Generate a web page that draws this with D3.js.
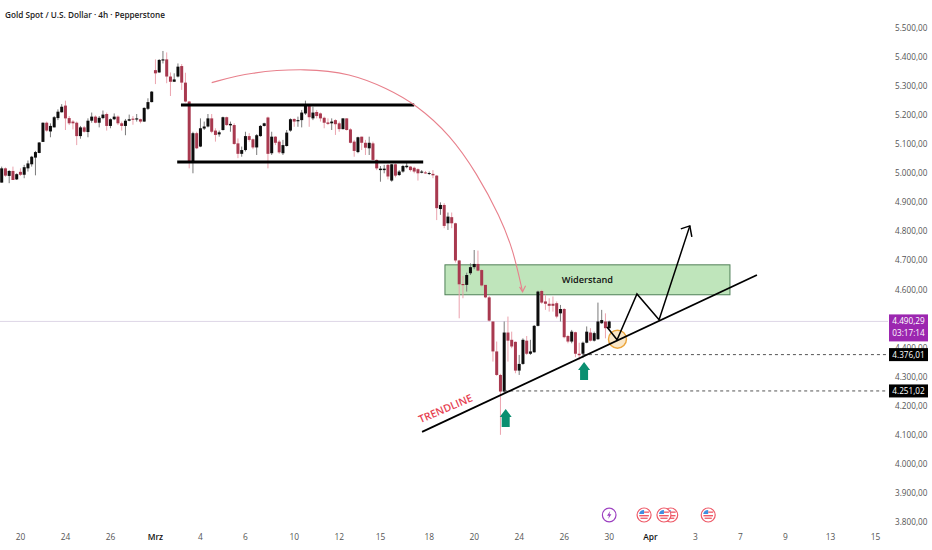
<!DOCTYPE html>
<html><head><meta charset="utf-8">
<style>html,body{margin:0;padding:0;background:#fff;overflow:hidden}svg{display:block}</style>
<script src="https://cdn.jsdelivr.net/npm/d3@7"></script></head><body>
<script>
const open=[4968,5017,4991,5008,4979,5005,4995,5017,5031,5054,5070,5108,5174,5144,5158,5190,5210,5233,5190,5178,5174,5128,5158,5142,5181,5195,5174,5190,5204,5163,5186,5195,5172,5163,5181,5188,5185,5186,5178,5222,5245,5355,5347,5388,5392,5333,5315,5333,5369,5312,5247,5037,5138,5092,5154,5161,5189,5147,5134,5149,5193,5165,5166,5103,5067,5080,5128,5117,5089,5128,5163,5192,5069,5126,5109,5069,5094,5147,5187,5179,5183,5206,5232,5189,5211,5206,5191,5175,5172,5183,5172,5152,5189,5151,5109,5073,5126,5105,5086,5103,5046,5011,5011,5029,4975,5031,4994,5006,5021,5023,5019,5014,5002,5003,4998,4998,4992,4877,4891,4828,4849,4828,4700,4619,4616,4656,4677,4688,4667,4616,4573,4490,4387,4306,4249,4452,4427,4420,4321,4344,4424,4379,4384,4475,4595,4559,4551,4551,4553,4518,4533,4440,4421,4453,4379,4379,4417,4452,4424,4429,4484,4490,4467];
const high=[5023,5020,5011,5023,5000,5017,5029,5044,5060,5077,5107,5175,5178,5172,5197,5220,5238,5250,5197,5183,5178,5163,5163,5189,5209,5199,5197,5216,5209,5189,5206,5199,5178,5187,5202,5197,5204,5188,5227,5258,5283,5392,5393,5421,5416,5347,5344,5378,5376,5346,5249,5143,5143,5189,5178,5204,5204,5155,5147,5195,5195,5178,5172,5120,5092,5143,5138,5120,5135,5166,5174,5195,5143,5128,5115,5115,5149,5189,5189,5195,5218,5250,5235,5229,5218,5209,5195,5189,5189,5186,5178,5189,5189,5155,5115,5126,5126,5115,5126,5109,5048,5025,5029,5032,5032,5034,5011,5029,5040,5025,5023,5017,5011,5008,5006,5011,4994,4900,4897,4865,4865,4830,4702,4647,4658,4690,4736,4734,4670,4616,4578,4490,4421,4310,4490,4507,4455,4421,4375,4432,4440,4427,4478,4596,4599,4582,4570,4576,4559,4547,4536,4444,4461,4455,4417,4421,4473,4467,4455,4555,4530,4518,4493];
const low=[4968,4988,4966,4977,4977,4991,4983,5006,5023,4993,5069,5108,5143,5124,5158,5183,5209,5149,5166,5151,5097,5119,5140,5124,5174,5172,5158,5186,5147,5155,5183,5166,5147,5131,5179,5167,5178,5172,5177,5218,5244,5307,5346,5378,5310,5266,5315,5330,5287,5244,5017,5000,5083,5090,5149,5158,5138,5109,5126,5147,5163,5143,5098,5052,5057,5075,5109,5083,5063,5126,5161,5017,5063,5097,5067,5063,5092,5143,5160,5160,5158,5201,5160,5183,5189,5178,5155,5166,5149,5132,5143,5151,5147,5103,5057,5069,5080,5063,5063,5044,5011,4971,5000,4979,4971,4986,4991,5002,5017,5006,5000,4975,5000,4998,4994,4983,4839,4857,4811,4805,4811,4693,4501,4570,4593,4650,4670,4662,4610,4570,4490,4352,4303,4100,4245,4352,4398,4312,4306,4341,4375,4375,4383,4473,4551,4530,4524,4524,4501,4490,4432,4415,4415,4367,4358,4364,4415,4421,4421,4427,4482,4432,4461];
const close=[5017,4992,5008,4977,4997,4995,5021,5034,5057,5073,5106,5174,5147,5163,5193,5212,5229,5189,5172,5172,5128,5158,5143,5181,5195,5174,5191,5202,5163,5186,5195,5172,5163,5181,5186,5184,5189,5178,5225,5245,5281,5344,5390,5392,5333,5315,5323,5367,5312,5247,5038,5138,5086,5155,5161,5189,5143,5132,5141,5193,5166,5170,5101,5067,5080,5128,5115,5089,5131,5163,5172,5067,5126,5105,5072,5097,5140,5186,5178,5183,5209,5232,5193,5209,5197,5189,5174,5170,5178,5169,5152,5189,5149,5105,5077,5124,5105,5088,5105,5046,5017,5016,5016,4989,5031,4992,5006,5025,5026,5011,5006,5000,5006,5000,5001,4993,4880,4891,4819,4851,4828,4700,4618,4615,4650,4677,4688,4665,4614,4573,4493,4387,4306,4249,4452,4424,4404,4321,4344,4427,4379,4387,4475,4593,4555,4551,4544,4544,4507,4533,4436,4421,4455,4379,4374,4417,4455,4424,4450,4490,4495,4467,4490];

const priceTicks=[5500,5400,5300,5200,5100,5000,4900,4800,4700,4600,4500,4400,4300,4200,4100,4000,3900,3800];
const timeLabels=["20","24","26","Mrz","4","6","10","12","15","18","20","24","26","30","Apr","3","7","9","13","15"];
const timeIndex=[5,17,29,41,53,65,78,90,101,114,126,138,150,162,173,185,197,209,221,233];
const boldLabels=["Mrz","Apr"];

const lastPrice=4490.29, countdown="03:17:14";
const levels=[4376.01,4251.02];
const levelStart=[155,134];
const boxTop=[47.8,110,5235], boxBottom=[46.8,112.4,5039];
const zone=[118.2,194.2,4685,4582];
const trendline=[[112.1,4110],[201.4,4650]];
const arcPoints=[[56,5312],[66.2,5348],[81.3,5361],[92.9,5344],[102.7,5293],[110.7,5235],[119.6,5132],[126.7,5000],[132.9,4851],[136.4,4736],[138.9,4592]];
const forecast=[[161.4,4471],[164.1,4427],[169.4,4585],[175.3,4496],[183.5,4819]];
const ring=[164.2,4429];
const upArrows=[[134.4,4189],[155.3,4351]];
const eventFlash=[162];
const eventFlags=[171.3,178.4,176.6,188.4];

const W=932,H=550;
const x=d3.scaleLinear().domain([0,100]).range([1.7,376.7]);
const y=d3.scaleLinear().domain([3800,5500]).range([522,28]);
const fontAxis="'Open Sans',sans-serif";
const svg=d3.select("body").append("svg").attr("width",W).attr("height",H).attr("viewBox",`0 0 ${W} ${H}`);

svg.append("line").attr("x1",0).attr("x2",888).attr("y1",y(lastPrice)).attr("y2",y(lastPrice)).attr("stroke","#ddd6e6").attr("stroke-width",1);

svg.append("rect").attr("x",x(zone[0])).attr("y",y(zone[2])).attr("width",x(zone[1])-x(zone[0])).attr("height",y(zone[3])-y(zone[2]))
  .attr("fill","#bfe5bb").attr("stroke","#4f7f57").attr("stroke-width",1);

const idx=d3.range(open.length);
const RED="#a8394f",BLK="#0d0d0d";
svg.append("g").selectAll("line").data(idx).join("line")
  .attr("x1",i=>x(i)).attr("x2",i=>x(i)).attr("y1",i=>y(high[i])).attr("y2",i=>y(low[i]))
  .attr("stroke",i=>close[i]>=open[i]?"#7a7a7a":"#eba3ae").attr("stroke-width",1);
svg.append("g").selectAll("rect").data(idx).join("rect")
  .attr("x",i=>x(i)-1.5).attr("width",3)
  .attr("y",i=>y(Math.max(open[i],close[i])))
  .attr("height",i=>Math.max(1,Math.abs(y(open[i])-y(close[i]))))
  .attr("fill",i=>close[i]>=open[i]?BLK:RED);

[boxTop,boxBottom].forEach(b=>svg.append("line").attr("x1",x(b[0])).attr("x2",x(b[1])).attr("y1",y(b[2])).attr("y2",y(b[2])).attr("stroke","#000").attr("stroke-width",3));

levels.forEach((l,k)=>svg.append("line").attr("x1",x(levelStart[k])).attr("x2",888).attr("y1",y(l)).attr("y2",y(l)).attr("stroke","#555").attr("stroke-width",1).attr("stroke-dasharray","3 3"));

const line=d3.line().x(d=>x(d[0])).y(d=>y(d[1]));
svg.append("path").attr("d",line.curve(d3.curveBasis)(arcPoints.slice(0,1).concat(arcPoints,arcPoints.slice(-1)))).attr("fill","none").attr("stroke","#e8808c").attr("stroke-width",1.1);
line.curve(d3.curveLinear);
function head(tip,dx1,dy1,dx2,dy2,col,w){
  const tx=x(tip[0]),ty=y(tip[1]);
  svg.append("path").attr("d",`M${tx+dx1},${ty+dy1}L${tx},${ty}L${tx+dx2},${ty+dy2}`).attr("fill","none").attr("stroke",col).attr("stroke-width",w);
}
head(arcPoints[arcPoints.length-1],-3,-5,3,-6,"#e8808c",1.1);

svg.append("circle").attr("cx",x(ring[0])).attr("cy",y(ring[1])).attr("r",9).attr("fill","#f6d7a3").attr("fill-opacity",.6).attr("stroke","#eba53c").attr("stroke-width",1.4);

svg.append("path").attr("d",line(trendline)).attr("stroke","#000").attr("stroke-width",1.8).attr("fill","none");

svg.append("path").attr("d",line(forecast)).attr("stroke","#000").attr("stroke-width",1.5).attr("fill","none");
head(forecast[forecast.length-1],-9,3,2,11,"#000",1.5);

upArrows.forEach(a=>{
  const cx=x(a[0]),ty=y(a[1]);
  svg.append("path").attr("d",`M${cx},${ty}L${cx+6},${ty+8}L${cx+4},${ty+8}L${cx+4},${ty+18}L${cx-4},${ty+18}L${cx-4},${ty+8}L${cx-6},${ty+8}Z`).attr("fill","#0b8f70");
});

svg.append("text").attr("x",x((zone[0]+zone[1])/2)).attr("y",y((zone[2]+zone[3])/2)+3.5).attr("text-anchor","middle")
  .attr("font-family",fontAxis).attr("font-size",9.2).attr("font-weight",600).attr("fill","#111").text("Widerstand");
svg.append("text").attr("transform","translate(447,412) rotate(-23)").attr("text-anchor","middle")
  .attr("font-family",fontAxis).attr("font-size",10.5).attr("font-weight",600).attr("fill","#e63e50").text("TRENDLINE");
svg.append("text").attr("x",5).attr("y",17.5).attr("font-family",fontAxis).attr("font-size",8.8).attr("font-weight",600).attr("fill","#222")
  .attr("textLength",160).attr("lengthAdjust","spacingAndGlyphs")
  .text("Gold Spot / U.S. Dollar · 4h · Pepperstone");

const fmt=d=>d3.format(",.2f")(d).replace(/,/g,"#").replace(".",",").replace(/#/g,".");
svg.append("g").selectAll("text").data(priceTicks).join("text").attr("x",895).attr("y",d=>y(d)+3).attr("font-family",fontAxis).attr("font-size",8.2).attr("fill","#555").text(fmt);

svg.append("g").selectAll("text").data(timeLabels).join("text").attr("x",(d,i)=>x(timeIndex[i])).attr("y",540).attr("text-anchor","middle")
  .attr("font-family",fontAxis).attr("font-size",8.4).attr("font-weight",d=>boldLabels.includes(d)?600:400).attr("fill",d=>boldLabels.includes(d)?"#111":"#555").text(d=>d);

const tagX=889,tagW=39;
svg.append("rect").attr("x",tagX).attr("y",y(lastPrice)-7).attr("width",tagW).attr("height",27).attr("fill","#9c27b0");
svg.append("text").attr("x",tagX+tagW/2).attr("y",y(lastPrice)+2.5).attr("text-anchor","middle").attr("font-family",fontAxis).attr("font-size",8.2).attr("fill","#fff").text(fmt(lastPrice));
svg.append("text").attr("x",tagX+tagW/2).attr("y",y(lastPrice)+15).attr("text-anchor","middle").attr("font-family",fontAxis).attr("font-size",8.2).attr("fill","#fff").text(countdown);
levels.forEach(l=>{
  svg.append("rect").attr("x",tagX).attr("y",y(l)-6.5).attr("width",tagW).attr("height",13).attr("fill","#000");
  svg.append("text").attr("x",tagX+tagW/2).attr("y",y(l)+3).attr("text-anchor","middle").attr("font-family",fontAxis).attr("font-size",8.2).attr("fill","#fff").text(fmt(l));
});

const iconY=515;
eventFlash.forEach(i=>{
  const g=svg.append("g").attr("transform",`translate(${x(i)},${iconY})`);
  g.append("circle").attr("r",6.8).attr("fill","#fff").attr("stroke","#9c3fc0").attr("stroke-width",1.2);
  g.append("path").attr("d","M1,-4L-2.2,0.7L-0.2,0.7L-1,4L2.2,-0.7L0.2,-0.7Z").attr("fill","#9c3fc0");
});
eventFlags.forEach(i=>{
  const g=svg.append("g").attr("transform",`translate(${x(i)},${iconY})`);
  g.append("circle").attr("r",7).attr("fill","#fff").attr("stroke","#ee5a68").attr("stroke-width",1.2);
  g.append("path").attr("d","M-5,-1A5,5 0 0 1 0,-5L0,-1Z").attr("fill","#3f8fe0");
  g.append("rect").attr("x",0).attr("y",-3.5).attr("width",5).attr("height",1.3).attr("fill","#ee5a68");
  g.append("rect").attr("x",-4.8).attr("y",0).attr("width",9.6).attr("height",1.4).attr("fill","#ee5a68");
  g.append("rect").attr("x",-3.6).attr("y",2.6).attr("width",7.2).attr("height",1.3).attr("fill","#ee5a68");
});
</script></body></html>
